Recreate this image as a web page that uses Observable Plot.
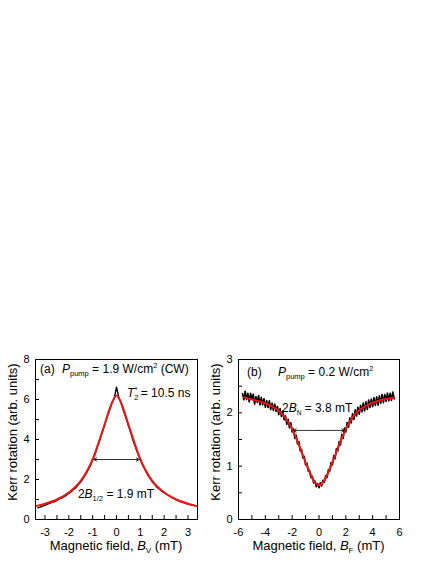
<!DOCTYPE html>
<html><head><meta charset="utf-8">
<script src="https://cdn.jsdelivr.net/npm/d3@7"></script>
<script src="https://cdn.jsdelivr.net/npm/@observablehq/plot@0.6"></script>
<style>
body{margin:0;background:#fff;width:436px;height:564px;position:relative;overflow:hidden;font-family:"Liberation Sans",Arial,sans-serif;}
#a,#b{position:absolute;top:340px;}
#a{left:0}
#b{left:205px}
</style></head><body>
<div id="a"></div><div id="b"></div>
<script>
const FONT = '"Liberation Sans", Arial, Helvetica, sans-serif';
const RED = "#f01414";

// ---------- Panel (a): Voigt geometry ----------
const blackAx = [-3.3,-3.2,-3.1,-3.0,-2.9,-2.8,-2.7,-2.6,-2.5,-2.4,-2.3,-2.2,-2.1,-2.0,-1.9,-1.8,-1.7,-1.6,-1.5,-1.4,-1.3,-1.2,-1.1,-1.0,-0.9,-0.8,-0.7,-0.6,-0.5,-0.4,-0.3,-0.2,-0.1,-0.05,0,0.05,0.1,0.2,0.3,0.4,0.5,0.6,0.7,0.8,0.9,1.0,1.1,1.2,1.3,1.4,1.5,1.6,1.7,1.8,1.9,2.0,2.1,2.2,2.3,2.4,2.5,2.6,2.7,2.8,2.9,3.0,3.1,3.2,3.3];
const blackAy = [0.58,0.62,0.67,0.71,0.77,0.81,0.87,0.89,0.96,1.03,1.07,1.15,1.21,1.31,1.39,1.51,1.59,1.75,1.87,2.06,2.24,2.46,2.69,2.99,3.27,3.63,3.97,4.36,4.71,5.11,5.44,5.82,6.04,6.32,6.62,6.36,6.08,5.83,5.41,5.09,4.69,4.33,3.94,3.61,3.29,3.03,2.71,2.49,2.25,2.07,1.89,1.76,1.61,1.51,1.41,1.35,1.26,1.21,1.12,1.07,0.99,0.96,0.89,0.87,0.8,0.79,0.73,0.72,0.67];
const fitAx = [-3.35,-3.0,-2.5,-2.0,-1.5,-1.25,-1.0,-0.75,-0.5,-0.25,0,0.25,0.5,0.75,1.0,1.25,1.5,2.0,2.5,3.0,3.35];
const fitAy = [0.68,0.79,1.0,1.35,1.93,2.4,3.0,3.85,4.75,5.65,6.2,5.65,4.75,3.85,3.0,2.4,1.93,1.35,1.0,0.79,0.68];
const xDomainA = [-3.4, 3.4];
const yDomainA = [0, 8];
const xTicksA = [-3,-2.5,-2,-1.5,-1,-0.5,0,0.5,1,1.5,2,2.5,3];
const yTicksA = [0,1,2,3,4,5,6,7,8];
const halfWidthA = 0.95;   // 2B1/2 = 1.9 mT
const arrowYA = 3.0;

// ---------- Panel (b): Faraday geometry ----------
const blackBx = [-5.7,-5.6,-5.5,-5.4,-5.3,-5.2,-5.1,-5.0,-4.9,-4.8,-4.7,-4.6,-4.5,-4.4,-4.3,-4.2,-4.1,-4.0,-3.9,-3.8,-3.7,-3.6,-3.5,-3.4,-3.3,-3.2,-3.1,-3.0,-2.9,-2.8,-2.7,-2.6,-2.5,-2.4,-2.3,-2.2,-2.1,-2.0,-1.9,-1.8,-1.7,-1.6,-1.5,-1.4,-1.3,-1.2,-1.1,-1.0,-0.9,-0.8,-0.7,-0.6,-0.5,-0.4,-0.3,-0.2,-0.1,0.0,0.1,0.2,0.3,0.4,0.5,0.6,0.7,0.8,0.9,1.0,1.1,1.2,1.3,1.4,1.5,1.6,1.7,1.8,1.9,2.0,2.1,2.2,2.3,2.4,2.5,2.6,2.7,2.8,2.9,3.0,3.1,3.2,3.3,3.4,3.5,3.6,3.7,3.8,3.9,4.0,4.1,4.2,4.3,4.4,4.5,4.6,4.7,4.8,4.9,5.0,5.1,5.2,5.3,5.4,5.5,5.6];
const blackBy = [2.36,2.245,2.405,2.25,2.365,2.205,2.365,2.265,2.35,2.165,2.305,2.195,2.325,2.15,2.29,2.15,2.265,2.105,2.23,2.1,2.225,2.06,2.18,2.045,2.165,2.03,2.12,1.965,2.08,1.93,2.035,1.87,1.945,1.785,1.88,1.72,1.815,1.64,1.7,1.52,1.58,1.415,1.46,1.285,1.315,1.155,1.185,1.025,1.055,0.905,0.92,0.785,0.81,0.685,0.72,0.615,0.675,0.595,0.69,0.63,0.735,0.7,0.825,0.785,0.935,0.905,1.07,1.025,1.2,1.14,1.33,1.285,1.46,1.4,1.595,1.52,1.715,1.64,1.82,1.73,1.905,1.81,1.98,1.875,2.055,1.94,2.105,1.975,2.14,2.02,2.185,2.035,2.205,2.065,2.24,2.1,2.26,2.115,2.285,2.14,2.3,2.145,2.32,2.175,2.345,2.19,2.345,2.215,2.37,2.225,2.365,2.235,2.39,2.26];
const fitBx = [-5.6,-5.0,-4.5,-4.0,-3.5,-3.0,-2.5,-2.0,-1.5,-1.0,-0.5,-0.25,0,0.25,0.5,1.0,1.5,2.0,2.5,3.0,3.5,4.0,4.5,5.0,5.6];
const fitBy = [2.29,2.25,2.22,2.18,2.12,2.04,1.9,1.7,1.4,1.07,0.78,0.68,0.64,0.68,0.78,1.07,1.4,1.7,1.92,2.05,2.13,2.19,2.23,2.26,2.29];
const xDomainB = [-6, 6];
const yDomainB = [0, 3];
const xTicksB = [-6,-5,-4,-3,-2,-1,0,1,2,3,4,5,6];
const yTicksB = [0,0.5,1,1.5,2,2.5,3];
const halfWidthB = 1.9;    // 2BN = 3.8 mT
const arrowYB = 1.67;

const zip = (xs, ys) => xs.map((x, i) => ({x, y: ys[i]}));

function axes(xTicks, yTicks, xfmt, yfmt) {
  return [
    Plot.axisX({ticks: xTicks, anchor: "bottom", tickSize: -4, tickPadding: 13, tickFormat: xfmt, label: null, stroke: "black", fill: "black"}),
    Plot.axisY({ticks: yTicks, anchor: "left", tickSize: -4, tickPadding: 10, tickFormat: yfmt, label: null, stroke: "black", fill: "black"}),
    Plot.frame({stroke: "black", strokeWidth: 1})
  ];
}

function rich(svg, x, y, parts, {anchor = "start", size = 12, transform = null} = {}) {
  const t = d3.select(svg).append("text")
    .attr("x", x).attr("y", y).attr("text-anchor", anchor)
    .attr("font-family", FONT).attr("font-size", size).attr("fill", "black");
  if (transform) t.attr("transform", transform);
  let shift = 0;
  for (const p of parts) {
    const s = t.append("tspan").text(p.t);
    const target = p.sub ? 3 : p.sup ? -5 : 0;
    s.attr("dy", target - shift);
    shift = target;
    if (p.sub || p.sup) s.attr("font-size", p.fs || 7.5);
    if (p.i) s.attr("font-style", "italic");
    if (p.dx) s.attr("dx", p.dx);
  }
  return t;
}

// ---- Plot (a)
const mA = {left: 35, right: 8, top: 19, bottom: 45, w: 205, h: 224};
const plotA = Plot.plot({
  width: mA.w, height: mA.h, marginLeft: mA.left, marginRight: mA.right, marginTop: mA.top, marginBottom: mA.bottom,
  style: {fontFamily: FONT, fontSize: "11px", color: "black", background: "white"},
  x: {domain: xDomainA},
  y: {domain: yDomainA},
  marks: [
    Plot.line(zip(blackAx, blackAy), {x: "x", y: "y", stroke: "black", strokeWidth: 1.4}),
    Plot.line(zip(fitAx, fitAy), {x: "x", y: "y", stroke: RED, strokeWidth: 2, curve: "monotone-x"}),
    Plot.arrow([{x1: 0, x2: -halfWidthA}, {x1: 0, x2: halfWidthA}], {x1: "x1", x2: "x2", y1: arrowYA, y2: arrowYA, stroke: "black", strokeWidth: 0.8, headLength: 6, bend: 0}),
    ...axes(xTicksA, yTicksA, d => Number.isInteger(d) ? String(d) : "", d => d % 2 === 0 ? String(d) : "")
  ]
});
document.getElementById("a").appendChild(plotA);
{
  const sx = plotA.scale("x"), sy = plotA.scale("y");
  rich(plotA, 40, 33, [{t: "(a)"}]);
  rich(plotA, 62, 33, [{t: "P", i: true}, {t: "pump", sub: true}, {t: " = 1.9 W/cm"}, {t: "2", sup: true}, {t: " (CW)"}]);
  rich(plotA, 127, 57, [{t: "T", i: true}, {t: "2", sub: true}, {t: "*", sup: true, dx: -4}, {t: " = 10.5 ns"}]);
  rich(plotA, sx.apply(0), sy.apply(1.05), [{t: "2"}, {t: "B", i: true}, {t: "1/2", sub: true}, {t: " = 1.9 mT"}], {anchor: "middle"});
  const cx = (mA.left + mA.w - mA.right) / 2;
  rich(plotA, cx, 210, [{t: "Magnetic field, "}, {t: "B", i: true}, {t: "V", sub: true, fs: 8}, {t: " (mT)"}], {anchor: "middle", size: 13});
  rich(plotA, 0, 0, [{t: "Kerr rotation (arb. units)"}], {anchor: "middle", size: 13, transform: `translate(16.5,92) rotate(-90)`});
}

// ---- Plot (b)
const mB = {left: 33, right: 37, top: 19, bottom: 45, w: 231, h: 224};
const plotB = Plot.plot({
  width: mB.w, height: mB.h, marginLeft: mB.left, marginRight: mB.right, marginTop: mB.top, marginBottom: mB.bottom,
  style: {fontFamily: FONT, fontSize: "11px", color: "black", background: "white"},
  x: {domain: xDomainB},
  y: {domain: yDomainB},
  marks: [
    Plot.line(zip(blackBx, blackBy), {x: "x", y: "y", stroke: "black", strokeWidth: 1.6}),
    Plot.line(zip(fitBx, fitBy), {x: "x", y: "y", stroke: RED, strokeWidth: 2, curve: "monotone-x"}),
    Plot.arrow([{x1: 0, x2: -halfWidthB}, {x1: 0, x2: halfWidthB}], {x1: "x1", x2: "x2", y1: arrowYB, y2: arrowYB, stroke: "black", strokeWidth: 0.8, headLength: 6, bend: 0}),
    ...axes(xTicksB, yTicksB, d => d % 2 === 0 ? String(d) : "", d => Number.isInteger(d) ? String(d) : "")
  ]
});
document.getElementById("b").appendChild(plotB);
{
  const sx = plotB.scale("x"), sy = plotB.scale("y");
  rich(plotB, 42, 36, [{t: "(b)"}]);
  rich(plotB, 73, 36, [{t: "P", i: true}, {t: "pump", sub: true}, {t: " = 0.2 W/cm"}, {t: "2", sup: true}]);
  rich(plotB, sx.apply(-2.72), sy.apply(2.0), [{t: "2"}, {t: "B", i: true}, {t: "N", sub: true, fs: 6.5}, {t: " = 3.8 mT"}]);
  const cx = (mB.left + mB.w - mB.right) / 2;
  rich(plotB, cx, 210, [{t: "Magnetic field, "}, {t: "B", i: true}, {t: "F", sub: true, fs: 8}, {t: " (mT)"}], {anchor: "middle", size: 13});
  rich(plotB, 0, 0, [{t: "Kerr rotation (arb. units)"}], {anchor: "middle", size: 13, transform: `translate(14.5,92) rotate(-90)`});
}
</script>
</body></html>
